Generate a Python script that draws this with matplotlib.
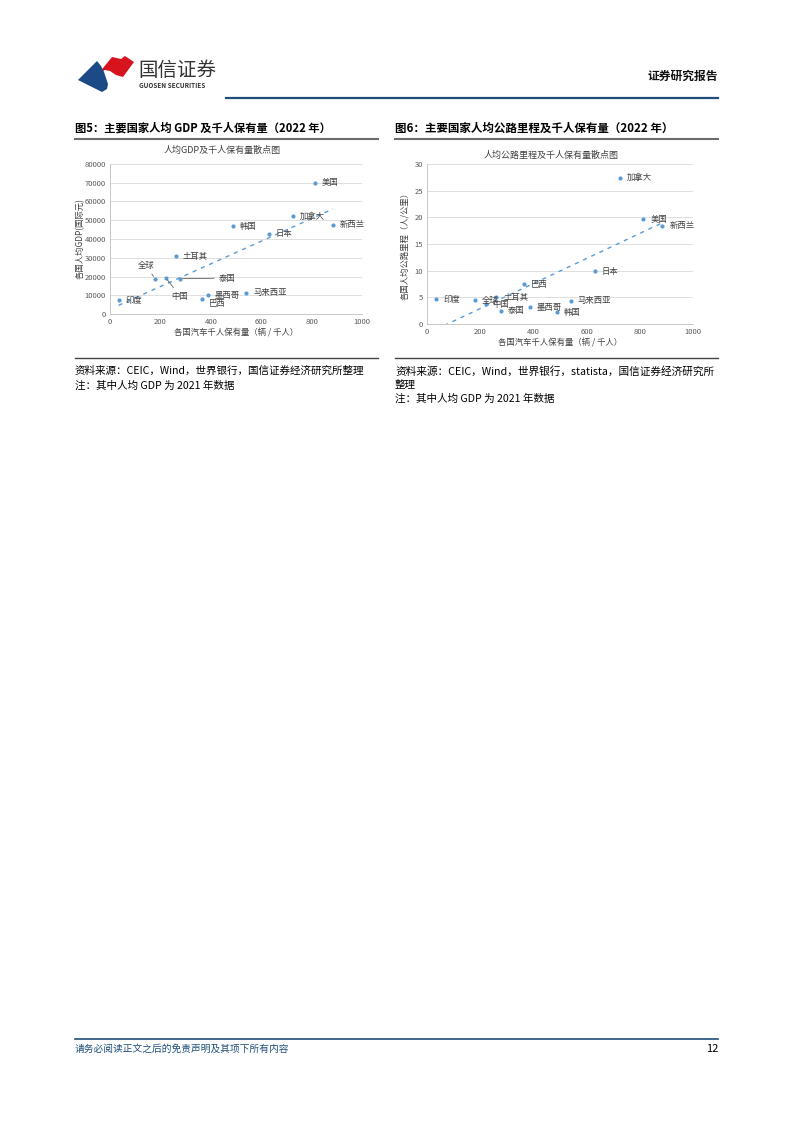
import numpy as np
import matplotlib
matplotlib.use("Agg")
import matplotlib.pyplot as plt
from matplotlib.patches import Polygon

plt.rcParams['font.family'] = ['Noto Sans CJK SC', 'DejaVu Sans']
plt.rcParams['axes.unicode_minus'] = False

# ---- data ----
countries = ['印度', '全球', '中国', '泰国', '土耳其', '韩国', '日本',
             '加拿大', '美国', '新西兰', '墨西哥', '巴西', '马来西亚']
cars = [34, 179, 221, 277, 260, 487, 630, 726, 813, 885, 387, 364, 540]
gdp = [7500, 18800, 19400, 18800, 30800, 46900, 42700,
       52300, 69900, 47500, 10100, 7800, 11400]
road = [4.6, 4.5, 3.7, 2.5, 5.0, 2.2, 9.9, 27.4, 19.6, 18.4, 3.1, 7.5, 4.4]

W, H = 794, 1123
BLUE = "#5B9BD5"
NAVY = "#1F4E79"


def fx(x):
    return x / W


def fy(y):
    return 1 - y / H


def ax_rect(l, t, r, b):
    return [fx(l), fy(b), (r - l) / W, (b - t) / H]


fig = plt.figure(figsize=(W / 100, H / 100), dpi=100)

# --- header: logo ---
red_pts = [(99, 73), (112, 57), (121, 59), (125, 56), (134, 62), (123, 77),
           (116, 75), (110, 71), (105, 70)]
blue_pts = [(78, 80), (97, 61), (101, 66), (104, 72), (106, 78), (108, 84),
            (107, 89), (102, 92), (92, 87)]
for pts, col in [(red_pts, "#D7141E"), (blue_pts, "#1B4A86")]:
    fig.patches.append(Polygon([(fx(x), fy(y)) for x, y in pts], closed=True,
                               transform=fig.transFigure, fc=col, ec="none"))
fig.text(fx(138), fy(70), "国信证券", fontsize=14, color="#333333",
         va="center", ha="left")
fig.text(fx(139), fy(86), "GUOSEN SECURITIES", fontsize=4.6, color="#333333",
         va="center", ha="left", fontweight="bold")
fig.text(fx(718), fy(76), "证券研究报告", fontsize=8.5, fontweight="bold",
         va="center", ha="right", color="#111111")
fig.add_artist(plt.Line2D([fx(226), fx(718)], [fy(98), fy(98)],
                          color=NAVY, lw=1.6, transform=fig.transFigure))

# --- figure titles ---
fig.text(fx(75), fy(128), "图5：主要国家人均 GDP 及千人保有量（2022 年）",
         fontsize=8.1, fontweight="bold", va="center", ha="left")
fig.text(fx(395), fy(128), "图6：主要国家人均公路里程及千人保有量（2022 年）",
         fontsize=8.3, fontweight="bold", va="center", ha="left")
for x0, x1 in [(75, 378), (395, 718)]:
    fig.add_artist(plt.Line2D([fx(x0), fx(x1)], [fy(138.5), fy(138.5)],
                              color="#6b6b6b", lw=1.5, transform=fig.transFigure))
    fig.add_artist(plt.Line2D([fx(x0), fx(x1)], [fy(358), fy(358)],
                              color="#444444", lw=1.0, transform=fig.transFigure))


def style_axes(ax):
    ax.grid(True, axis="y", color="#d9d9d9", lw=0.6)
    ax.set_axisbelow(True)
    for s in ["top", "right"]:
        ax.spines[s].set_visible(False)
    for s in ["left", "bottom"]:
        ax.spines[s].set_color("#bfbfbf")
        ax.spines[s].set_linewidth(0.6)
    ax.tick_params(length=0, labelsize=5.5, colors="#595959", pad=3)
    ax.set_xlim(0, 1000)
    ax.set_xticks(range(0, 1001, 200))


def trend(ax, x, y):
    k, b = np.polyfit(x, y, 1)
    xs = np.array([min(x), max(x)])
    ax.plot(xs, k * xs + b, ls=(0, (3, 3.5)), color=BLUE, lw=1.0, zorder=2)


# --- Panel 1: GDP ---
ax = fig.add_axes(ax_rect(110, 164, 362, 314))
style_axes(ax)
ax.set_ylim(0, 80000)
ax.set_yticks(range(0, 80001, 10000))
trend(ax, cars, gdp)
ax.scatter(cars, gdp, s=9, color=BLUE, zorder=3, lw=0)
lead = {'全球': (142, 25800), '中国': (277, 9600), '泰国': (463, 19200)}
for name, x, y in zip(countries, cars, gdp):
    if name in lead:
        ax.annotate(name, xy=(x, y), xytext=lead[name], fontsize=6,
                    ha="center", va="center", color="#404040",
                    arrowprops=dict(arrowstyle="-", color="#404040", lw=0.5,
                                    shrinkA=1, shrinkB=2))
    else:
        dy = -3 if name == '巴西' else 0
        ax.annotate(name, xy=(x, y), xytext=(5, dy), textcoords="offset points",
                    fontsize=6, ha="left", va="center", color="#404040")
fig.text(fx(222), fy(150), "人均GDP及千人保有量散点图", fontsize=6.5,
         ha="center", va="center", color="#404040")
fig.text(fx(236), fy(333), "各国汽车千人保有量（辆 / 千人）", fontsize=6,
         ha="center", va="center", color="#404040")
fig.text(fx(80), fy(239), "各国人均GDP(国际元)", fontsize=6, rotation=90,
         ha="center", va="center", color="#404040")

# --- Panel 2: road ---
ax = fig.add_axes(ax_rect(427, 164, 693, 324))
style_axes(ax)
ax.set_ylim(0, 30)
ax.set_yticks(range(0, 31, 5))
trend(ax, cars, road)
ax.scatter(cars, road, s=9, color=BLUE, zorder=3, lw=0)
for name, x, y in zip(countries, cars, road):
    ax.annotate(name, xy=(x, y), xytext=(5, 0), textcoords="offset points",
                fontsize=6, ha="left", va="center", color="#404040")
fig.text(fx(551), fy(155), "人均公路里程及千人保有量散点图", fontsize=6.5,
         ha="center", va="center", color="#404040")
fig.text(fx(560), fy(343), "各国汽车千人保有量（辆 / 千人）", fontsize=6,
         ha="center", va="center", color="#404040")
fig.text(fx(405), fy(244), "各国人均公路里程（人/公里）", fontsize=6, rotation=90,
         ha="center", va="center", color="#404040")

# --- sources ---
fig.text(fx(75), fy(371), "资料来源：CEIC，Wind，世界银行，国信证券经济研究所整理",
         fontsize=7.6, ha="left", va="center")
fig.text(fx(75), fy(386), "注：其中人均 GDP 为 2021 年数据",
         fontsize=7.6, ha="left", va="center")
fig.text(fx(395), fy(371), "资料来源：CEIC，Wind，世界银行，statista，国信证券经济研究所",
         fontsize=7.7, ha="left", va="center")
fig.text(fx(395), fy(385), "整理", fontsize=7.6, ha="left", va="center")
fig.text(fx(395), fy(399), "注：其中人均 GDP 为 2021 年数据",
         fontsize=7.6, ha="left", va="center")

# --- footer ---
fig.add_artist(plt.Line2D([fx(75), fx(718)], [fy(1039), fy(1039)],
                          color=NAVY, lw=1.2, transform=fig.transFigure))
fig.text(fx(75), fy(1049), "请务必阅读正文之后的免责声明及其项下所有内容",
         fontsize=7, ha="left", va="center", color=NAVY)
fig.text(fx(718), fy(1049), "12", fontsize=8, ha="right", va="center")

fig.savefig("out.png", dpi=100)
